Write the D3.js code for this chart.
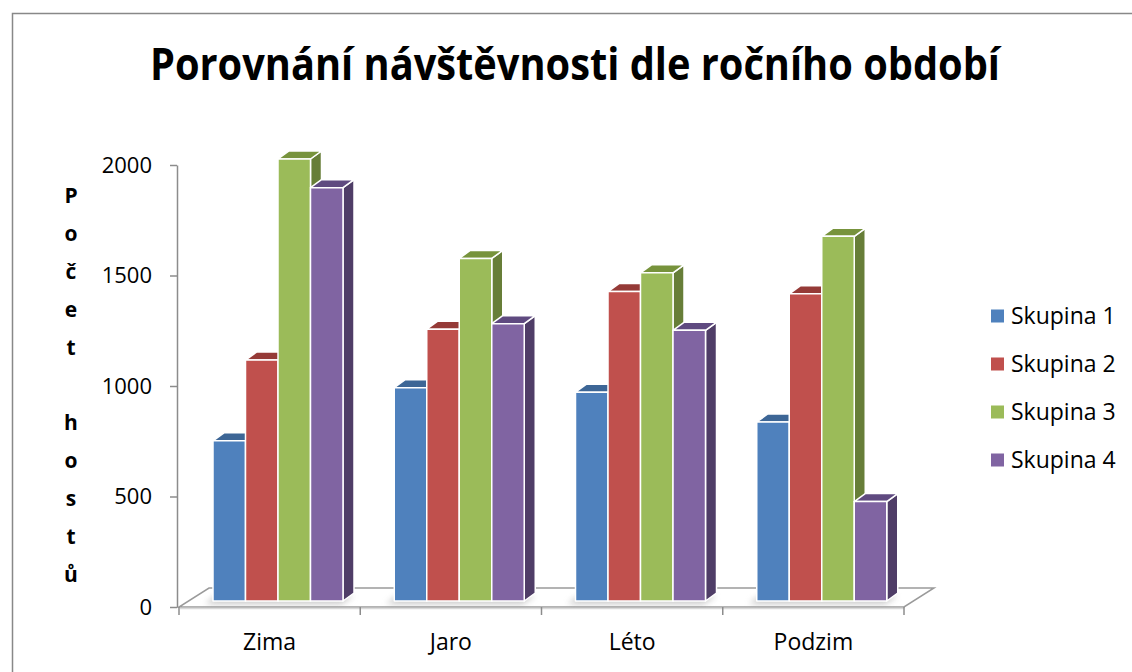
<!DOCTYPE html>
<html><head><meta charset="utf-8">
<script src="https://cdn.jsdelivr.net/npm/d3@7"></script>
<style>body{margin:0;background:#fff} svg{display:block} text{font-family:"Open Sans",sans-serif;fill:#000}</style>
</head><body><svg id="c" width="1132" height="672"></svg>
<script>
const categories = ["Zima","Jaro","Léto","Podzim"];
const seriesNames = ["Skupina 1","Skupina 2","Skupina 3","Skupina 4"];
const skupina1 = [725, 965, 945, 810];
const skupina2 = [1090, 1230, 1400, 1390];
const skupina3 = [2000, 1550, 1485, 1650];
const skupina4 = [1870, 1255, 1225, 450];
const yTicks = [0, 500, 1000, 1500, 2000];
const titleText = "Porovnání návštěvnosti dle ročního období";
const yTitle = "Počet hostů";

const values = [skupina1, skupina2, skupina3, skupina4];
const frontCol = ["#4F81BD","#C0504D","#9BBB59","#8064A2"];
const topCol   = ["#3D6696","#953A37","#77933C","#5F4A80"];
const sideCol  = ["#385D8A","#7D3331","#677E38","#4F3D67"];

const svg = d3.select("#c");
const defs = svg.append("defs");
defs.append("filter").attr("id","blur").attr("x","-20%").attr("y","-50%").attr("width","140%").attr("height","200%")
  .append("feGaussianBlur").attr("stdDeviation", 3);

// border
svg.append("rect").attr("x",12.5).attr("y",13.5).attr("width",1130).attr("height",670)
  .attr("fill","none").attr("stroke","#888").attr("stroke-width",1.5);

// title
svg.append("text").attr("x",575).attr("y",80).attr("text-anchor","middle")
  .attr("font-size",45).attr("font-weight",700)
  .attr("textLength",850).attr("lengthAdjust","spacingAndGlyphs").text(titleText);

const x0 = d3.scaleBand().domain(categories).range([179, 904]);
const x1 = d3.scaleBand().domain(seriesNames).range([0, 130]);
const y = d3.scaleLinear().domain([0, 2000]).range([607, 165]);

const DX = 11, DY = -8;         // bar depth
const FDX = 30, FDY = -19;      // floor depth
const BOX = 34, BOY = -6;       // bar front plane offset

// floor
const fx0 = x0.range()[0], fx1 = x0.range()[1], fy = y(0);
svg.append("polygon")
  .attr("points", [[fx0,fy],[fx1,fy],[fx1+FDX,fy+FDY],[fx0+FDX,fy+FDY]].map(p=>p.join(",")).join(" "))
  .attr("fill","#fff").attr("stroke","#9A9A9A").attr("stroke-width",1.5);
svg.append("line").attr("x1",fx0+1).attr("x2",fx1).attr("y1",fy+1.5).attr("y2",fy+1.5)
  .attr("stroke","#D9D9D9").attr("stroke-width",1.5);

// y axis
const yAxis = d3.axisLeft(y).tickValues(yTicks).tickFormat(d3.format("d"))
  .tickSize(7).tickSizeOuter(0).tickPadding(18);
const gy = svg.append("g").attr("transform","translate(177,0)").call(yAxis);
gy.select(".domain").attr("stroke","#8C8C8C").attr("stroke-width",1.5);
gy.selectAll(".tick line").attr("stroke","#8C8C8C").attr("stroke-width",1.5);
gy.selectAll(".tick text").attr("font-size",22).attr("font-family","Open Sans").attr("fill","#000");

// x ticks at band boundaries
const bounds = categories.map(c => x0(c)).concat([fx1]);
svg.selectAll(".xt").data(bounds).enter().append("line")
  .attr("x1",d=>d).attr("x2",d=>d).attr("y1",fy).attr("y2",fy+8)
  .attr("stroke","#8C8C8C").attr("stroke-width",1.5);
svg.selectAll(".xl").data(categories).enter().append("text")
  .attr("x",d=>x0(d)+x0.bandwidth()/2).attr("y",650).attr("text-anchor","middle")
  .attr("font-size",23).text(d=>d);

// y title stacked letters
svg.selectAll(".yt").data(Array.from(yTitle)).enter().append("text")
  .attr("x",71).attr("y",(d,i)=>203+i*37.9).attr("text-anchor","middle")
  .attr("font-size",21).attr("font-weight",700).text(d=>d);

// bars
categories.forEach((c, ci) => {
  const gx = x0(c) + BOX, by = y(0) + BOY;
  // shadow
  svg.append("polygon")
    .attr("points", [[gx-8,by+3],[gx+130-2,by+3],[gx+130+DX,by+DY+3],[gx+DX-8,by+DY+3]].map(p=>p.join(",")).join(" "))
    .attr("fill","#9a9a9a").attr("opacity",0.55).attr("filter","url(#blur)");
  seriesNames.forEach((s, si) => {
    const v = values[si][ci];
    const xl = gx + x1(s), w = x1.bandwidth();
    const yt = y(v) + BOY;
    const g = svg.append("g").attr("stroke","#fff").attr("stroke-width",1.5).attr("stroke-linejoin","round");
    g.append("polygon").attr("fill",sideCol[si])
      .attr("points",[[xl+w,yt],[xl+w+DX,yt+DY],[xl+w+DX,by+DY],[xl+w,by]].map(p=>p.join(",")).join(" "));
    g.append("polygon").attr("fill",topCol[si])
      .attr("points",[[xl,yt],[xl+DX,yt+DY],[xl+w+DX,yt+DY],[xl+w,yt]].map(p=>p.join(",")).join(" "));
    g.append("rect").attr("fill",frontCol[si]).attr("x",xl).attr("y",yt).attr("width",w).attr("height",by-yt);
  });
});

// legend
const lg = svg.append("g");
seriesNames.forEach((s, i) => {
  const cy = 316 + i*48;
  lg.append("rect").attr("x",991).attr("y",cy-6.5).attr("width",13).attr("height",13).attr("fill",frontCol[i]);
  lg.append("text").attr("x",1011).attr("y",cy).attr("dy","0.35em").attr("font-size",23).text(s);
});
</script></body></html>
